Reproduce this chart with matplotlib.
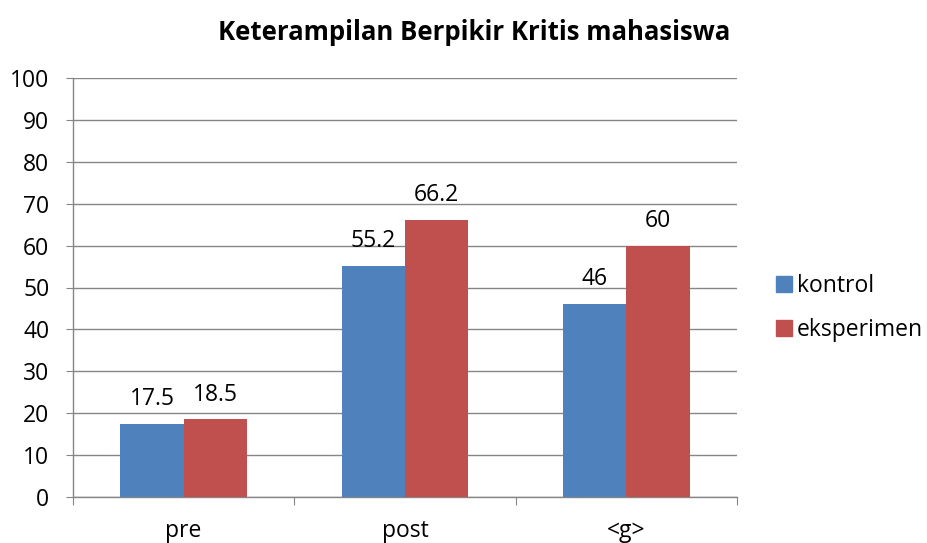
import matplotlib
matplotlib.use("Agg")
import matplotlib.pyplot as plt
import numpy as np
from matplotlib.patches import Patch

plt.rcParams['font.family'] = ['Open Sans', 'DejaVu Sans']

categories = ["pre", "post", "<g>"]
kontrol = [17.5, 55.2, 46]
eksperimen = [18.5, 66.2, 60]
series_names = ["kontrol", "eksperimen"]
yticks = [0, 10, 20, 30, 40, 50, 60, 70, 80, 90, 100]
title = "Keterampilan Berpikir Kritis mahasiswa"

blue = "#4F81BD"
red = "#C0504D"
gray = "#868686"
FS = 16.5

fig = plt.figure(figsize=(9.28, 5.43), dpi=100)
ax = fig.add_axes([73/928, 1-497/543, (737-73)/928, (497-78)/543])

x = np.arange(len(categories))
w = 1/3.5
ax.bar(x - w/2, kontrol, w, color=blue, zorder=3)
ax.bar(x + w/2, eksperimen, w, color=red, zorder=3)

for xi, v in zip(x, kontrol):
    ax.text(xi - w/2, v + 4.5, f"{v:g}", ha="center", va="baseline", fontsize=FS)
for xi, v in zip(x, eksperimen):
    ax.text(xi + w/2, v + 4.5, f"{v:g}", ha="center", va="baseline", fontsize=FS)

ax.set_xlim(-0.5, len(categories) - 0.5)
ax.set_ylim(0, 100)
ax.set_yticks(yticks)
ax.yaxis.grid(True, color=gray, linewidth=1, zorder=0)
ax.set_axisbelow(True)
for s in ["top", "right"]:
    ax.spines[s].set_visible(False)
for s in ["left", "bottom"]:
    ax.spines[s].set_color(gray)
    ax.spines[s].set_linewidth(1)

ax.tick_params(axis="y", length=5, color=gray, labelsize=FS, pad=12)
ax.set_xticks(np.arange(-0.5, len(categories)), minor=False)
ax.set_xticklabels([])
ax.tick_params(axis="x", length=6, color=gray, direction="out")
ax.set_xticks(x, minor=True)
ax.set_xticklabels(categories, minor=True)
ax.tick_params(axis="x", which="minor", length=0, labelsize=FS, pad=16)

handles = [Patch(color=blue), Patch(color=red)]
leg = ax.legend(handles, series_names, loc="center left",
                bbox_to_anchor=(776/928, 1-308/543), bbox_transform=fig.transFigure,
                frameon=False, fontsize=FS, handlelength=0.7, handleheight=0.7,
                handletextpad=0.2, labelspacing=0.85, borderaxespad=0, borderpad=0)

fig.text(474/928, 1-32/543, title, ha="center", va="center", fontsize=18.5, fontweight="bold")

fig.savefig("out.png", dpi=100)
